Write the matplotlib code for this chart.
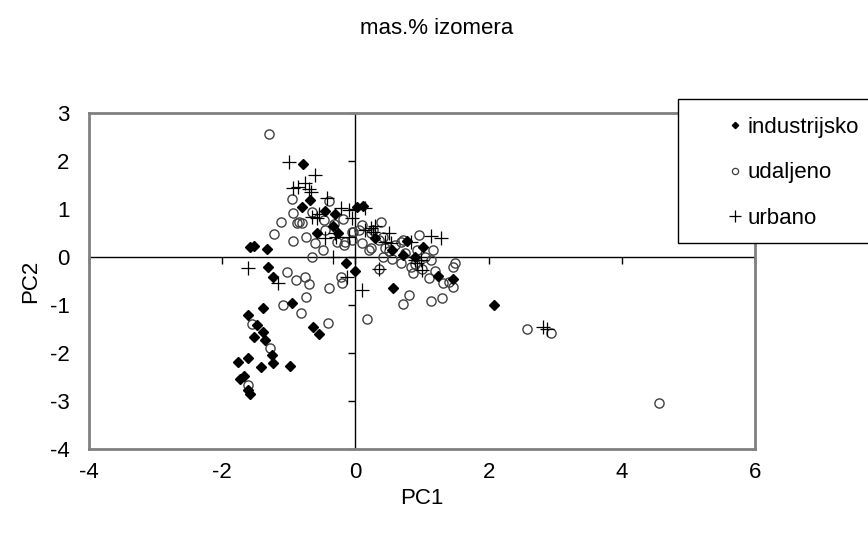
import matplotlib
matplotlib.use("Agg")
import matplotlib.pyplot as plt
from matplotlib.lines import Line2D
from matplotlib.patches import Rectangle
from matplotlib.markers import TICKDOWN, TICKLEFT

plt.rcParams['font.family'] = ['Liberation Sans', 'DejaVu Sans']
plt.rcParams['axes.unicode_minus'] = False

# PC scores
ind_x = [2.08, -0.78, -0.68, -0.80, -0.34, -0.26, -0.57, 0.03, 0.12, -1.58,
         -1.52, -1.32, -1.31, -1.23, -1.38, -0.95, -1.61, -1.47, -1.53, -1.38,
         -1.35, -0.63, -0.54, -1.25, -1.23, -1.76, -1.62, -1.41, -0.98, -0.14,
         0.00, 0.56, 1.02, 0.72, 1.24, 1.46, 0.78, -1.73, -1.68, -1.62,
         -1.58, 0.30, 0.55, 0.90, -0.45, -0.30]
ind_y = [-1.00, 1.94, 1.18, 1.04, 0.64, 0.50, 0.50, 1.05, 1.07, 0.21,
         0.23, 0.17, -0.20, -0.42, -1.07, -0.96, -1.21, -1.42, -1.67, -1.56,
         -1.73, -1.46, -1.60, -2.04, -2.21, -2.19, -2.10, -2.29, -2.27, -0.13,
         -0.30, -0.65, 0.21, 0.05, -0.39, -0.45, 0.33, -2.55, -2.48, -2.77,
         -2.86, 0.40, 0.15, 0.00, 0.95, 0.90]

uda_x = [-1.30, 4.56, 2.57, 2.93, -1.22, -0.93, -0.74, -1.11, -0.87, -0.65,
         -0.48, -0.27, -0.17, -0.05, -1.02, -0.89, -0.75, -0.69, -0.39, -0.74,
         -1.08, -0.81, -0.41, -1.55, -1.28, -0.21, -0.20, -1.61, -0.95, -0.93,
         -0.84, -0.80, -0.39, -0.65, -0.47, -0.45, -0.32, -0.18, -0.05, -0.15,
         0.38, 0.10, 0.05, -0.03, 0.23, 0.27, 0.42, 0.35, 0.45, 0.50,
         0.23, 0.20, 0.42, 0.68, 0.72, 0.68, 0.83, 0.86, 0.93, 1.05,
         1.17, 1.13, 1.10, 1.32, 1.40, 1.46, 1.47, 1.50, 0.80, 0.36,
         0.18, 1.14, 1.30, 0.60, 0.95, 0.55, 0.75, 0.90, 1.00, 1.20,
         0.10, -0.60, 0.72]
uda_y = [2.57, -3.04, -1.50, -1.58, 0.48, 0.33, 0.42, 0.73, 0.70, 0.00,
         0.15, 0.31, 0.25, 0.35, -0.31, -0.48, -0.42, -0.56, -0.65, -0.83,
         -1.00, -1.17, -1.38, -1.40, -1.90, -0.42, -0.54, -2.67, 1.21, 0.92,
         0.73, 0.71, 1.17, 0.94, 0.77, 0.56, 0.69, 0.79, 0.52, 0.31,
         0.73, 0.67, 0.57, 0.52, 0.50, 0.56, 0.42, 0.35, 0.19, 0.13,
         0.19, 0.15, 0.00, 0.31, 0.35, -0.13, -0.21, -0.33, 0.15, 0.00,
         0.15, -0.06, -0.44, -0.55, -0.52, -0.62, -0.21, -0.13, -0.79, -0.25,
         -1.30, -0.92, -0.85, 0.25, 0.45, -0.05, 0.08, -0.15, -0.25, -0.30,
         0.30, 0.30, -0.97]

urb_x = [-0.99, -0.60, -0.93, -0.75, -0.86, -0.69, -0.66, -0.42, -0.57, -0.21,
         -0.09, -0.65, -0.45, -0.29, -0.10, -1.61, -1.16, -0.33, -0.12, 0.10,
         0.36, 1.13, 1.28, 0.93, 0.15, -0.05, 0.23, 0.27, 0.15, 0.45,
         0.53, 0.83, 0.90, 0.98, 1.00, 0.30, 0.50, 2.81, 2.87, -0.55,
         -0.30]
urb_y = [1.98, 1.71, 1.44, 1.54, 1.46, 1.42, 1.35, 1.23, 0.81, 1.02,
         0.98, 0.83, 0.40, 0.42, 0.42, -0.23, -0.54, 0.00, -0.42, -0.69,
         -0.25, 0.44, 0.40, -0.13, 1.02, 0.81, 0.60, 0.52, 0.56, 0.31,
         0.29, 0.31, -0.06, -0.06, -0.27, 0.65, 0.50, -1.46, -1.50, 0.90,
         0.50]

x_ticks = [-4, -2, 0, 2, 4, 6]
y_ticks = [-4, -3, -2, -1, 0, 1, 2, 3]
labels = ['industrijsko', 'udaljeno', 'urbano']

fig = plt.figure(figsize=(8.68, 5.33), dpi=100)
ax = fig.add_axes([89 / 868, 1 - 449 / 533, 666 / 868, 336 / 533])

ax.plot(uda_x, uda_y, 'o', ls='none', ms=6.6, mfc='none', mec='#404040', mew=1.0)
ax.plot(ind_x, ind_y, 'D', ls='none', ms=4.6, color='black')
ax.plot(urb_x, urb_y, '+', ls='none', ms=10, color='black', mew=0.9)

ax.set_xlim(-4, 6)
ax.set_ylim(-4, 3)
ax.set_xticks(x_ticks)
ax.set_yticks(y_ticks)
ax.tick_params(length=0, labelsize=16)
ax.tick_params(axis='y', pad=14)
ax.tick_params(axis='x', pad=9)
for s in ax.spines.values():
    s.set_color('#808080')
    s.set_linewidth(2)

# axes through the origin with their tick marks
ax.axhline(0, color='black', lw=1, zorder=1)
ax.axvline(0, color='black', lw=1, zorder=1)
ax.plot(x_ticks, [0] * len(x_ticks), ls='none', marker=TICKDOWN, ms=5,
        mew=1, color='black', clip_on=False)
ax.plot([0] * len(y_ticks), y_ticks, ls='none', marker=TICKLEFT, ms=5,
        mew=1, color='black', clip_on=False)

ax.set_xlabel('PC1', fontsize=16, labelpad=4)
ax.set_ylabel('PC2', fontsize=16, labelpad=6)
fig.text(0.503, 0.947, 'mas.% izomera', ha='center', va='center', fontsize=16)

# legend box runs off the right edge, as in the original
fig.patches.append(Rectangle((678 / 868, 1 - 243 / 533), 0.3, 144 / 533,
                             transform=fig.transFigure, fc='white',
                             ec='black', lw=1, zorder=5))
handles = [Line2D([], [], ls='none', marker='D', ms=3.2, color='black'),
           Line2D([], [], ls='none', marker='o', ms=4.5, mfc='none',
                  mec='#404040', mew=0.9),
           Line2D([], [], ls='none', marker='+', ms=8, color='black', mew=0.9)]
leg = fig.legend(handles, labels, loc='upper left',
                 bbox_to_anchor=(725 / 868, 1 - 117 / 533), frameon=False,
                 fontsize=16, handlelength=0.9, handletextpad=0.1,
                 labelspacing=1.1, borderpad=0, borderaxespad=0)
leg.set_zorder(6)

fig.savefig('out.png', dpi=100)
